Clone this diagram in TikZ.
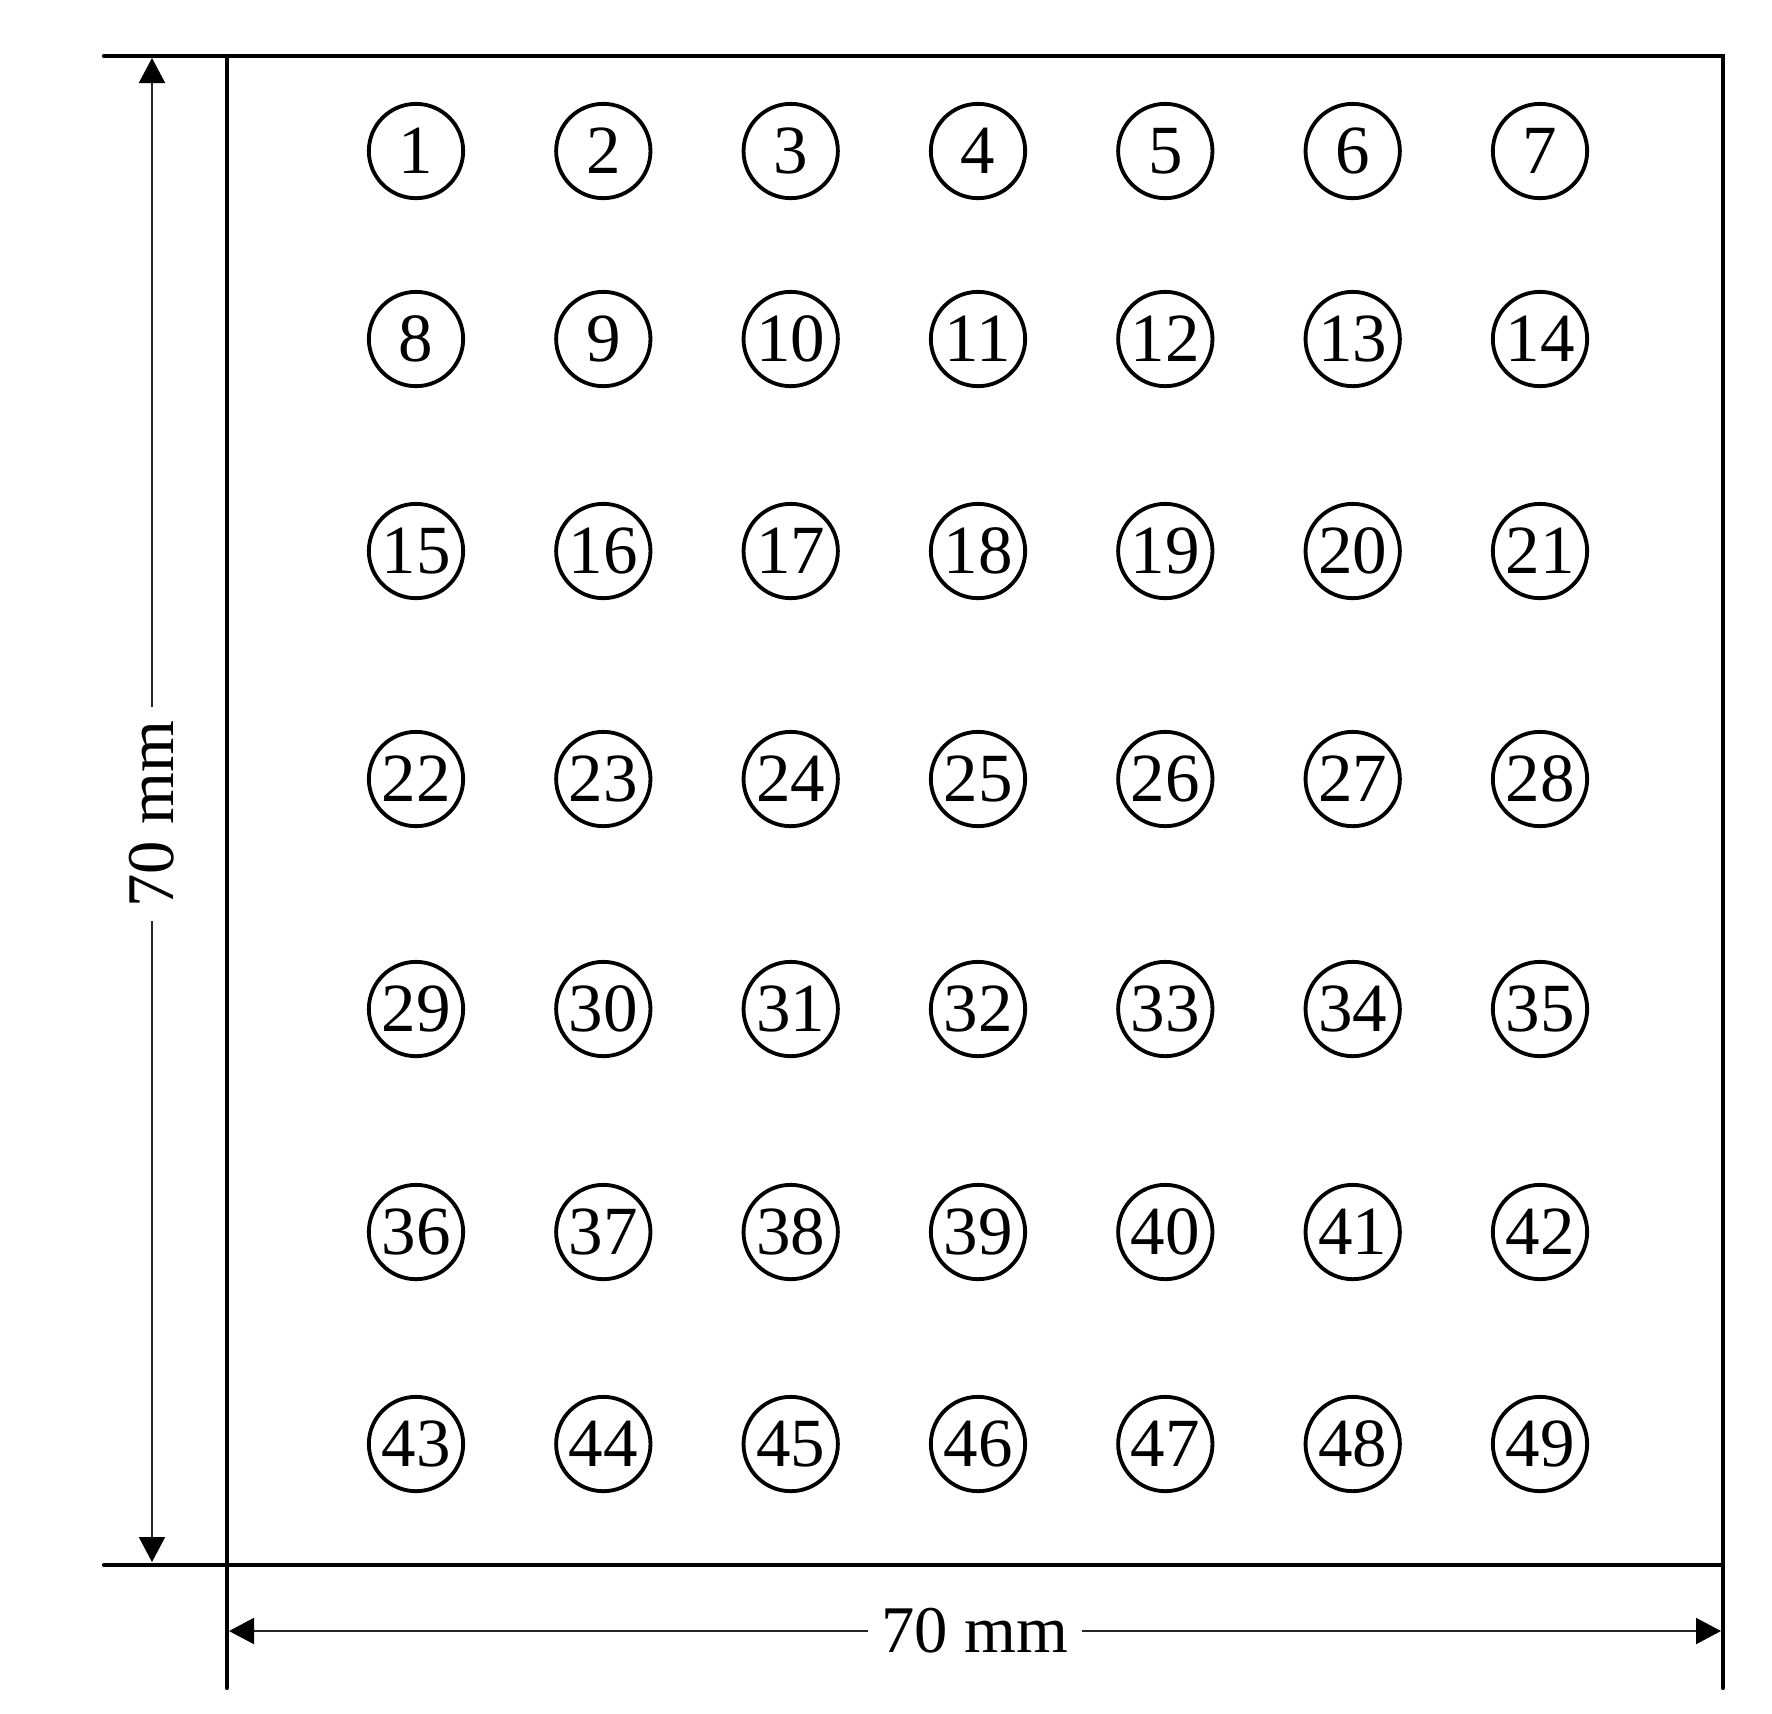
\documentclass[tikz,border=0pt]{standalone}
\usepackage{fontspec}
\setmainfont{Liberation Serif}
\usetikzlibrary{arrows.meta}
\begin{document}
\begin{tikzpicture}[x=0.3pt,y=-0.3pt,
  frameline/.style={line width=1.25pt, line cap=round, line join=miter},
  dimline/.style={line width=0.6pt, draw=black!85, -{Triangle[length=7.5pt,width=7.8pt,fill=black,color=black]}},
  hole/.style={circle, draw, line width=1.15pt, minimum size=28.3pt, inner sep=0pt,
    font=\fontsize{20.7pt}{24pt}\selectfont},
  dimlabel/.style={inner sep=3.8pt, font=\fontsize{20pt}{24pt}\selectfont}]
\useasboundingbox (0,0) rectangle (1772,1713);
% frame corners and extension ends
\coordinate (tlx) at (104,56);
\coordinate (tl) at (227,56);
\coordinate (tr) at (1723,56);
\coordinate (blx) at (104,1565);
\coordinate (bl) at (227,1565);
\coordinate (br) at (1723,1565);
\coordinate (lend) at (227,1688);
\coordinate (rend) at (1723,1688);
\draw[frameline] (tlx) -- (tr) -- (rend);
\draw[frameline] (tl) -- (lend);
\draw[frameline] (blx) -- (br);
% holes
\foreach \yy [count=\r from 0] in {151,339,551,779,1009,1232,1444} {
  \foreach \xx [count=\c from 1] in {416,603.3,790.7,978,1165.3,1352.7,1540} {
    \pgfmathtruncatemacro{\n}{\r*7+\c}
    \node[hole] (h\n) at (\xx,\yy) {\n};
  }
}
% vertical dimension
\node[dimlabel, rotate=90] (vlab) at (152,814) {70 mm};
\coordinate (vtop) at (152,58);
\coordinate (vbot) at (152,1562);
\draw[dimline] (vlab) -- (vtop);
\draw[dimline] (vlab) -- (vbot);
% horizontal dimension
\node[dimlabel] (hlab) at (975,1631) {70 mm};
\coordinate (hleft) at (229,1631);
\coordinate (hright) at (1721,1631);
\draw[dimline] (hlab) -- (hleft);
\draw[dimline] (hlab) -- (hright);
\end{tikzpicture}
\end{document}
